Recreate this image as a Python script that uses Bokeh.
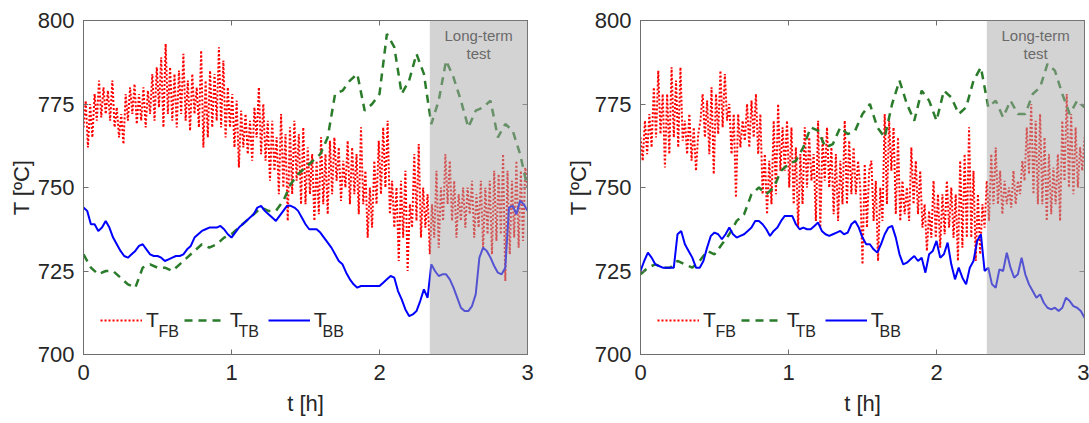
import numpy as np
from bokeh.plotting import figure
from bokeh.layouts import row
from bokeh.models import BoxAnnotation, Label, Legend, LegendItem, LinearAxis, Range1d
from bokeh.embed import file_html
from bokeh.resources import INLINE

# ---------------- data ----------------
FB_STEP = 0.015   # h, sampling of T_FB
TB_STEP = 0.05    # h, sampling of T_TB
BB_STEP = 0.025   # h, sampling of T_BB
LONG_TERM_START = 2.34
X_TICKS = [0, 1, 2, 3]
Y_TICKS = [700, 725, 750, 775, 800]

left_fb = [
    768, 776, 762, 775, 765, 778, 770, 782, 771, 780, 772, 779, 770, 782, 768, 774,
    765, 772, 763, 778, 770, 780, 772, 781, 769, 778, 770, 780, 768, 779, 772, 784,
    770, 786, 774, 789, 768, 793, 772, 786, 770, 784, 768, 785, 772, 790, 770, 782,
    767, 784, 772, 780, 768, 791, 762, 782, 765, 785, 768, 784, 770, 792, 768, 788,
    765, 780, 768, 778, 762, 776, 756, 773, 762, 772, 760, 770, 758, 774, 765, 780,
    760, 775, 758, 770, 752, 770, 755, 765, 748, 772, 750, 766, 740, 768, 748, 770,
    752, 766, 745, 768, 745, 762, 748, 760, 740, 758, 742, 765, 745, 760, 742, 764,
    748, 765, 752, 762, 746, 758, 750, 764, 745, 762, 748, 760, 742, 768, 745, 755,
    735, 750, 738, 758, 745, 764, 748, 768, 750, 770, 742, 752, 738, 750, 728, 752,
    735, 755, 725, 745, 738, 760, 740, 763, 735, 750, 738, 748, 730, 745, 735, 755,
    732, 750, 740, 760, 745, 758, 740, 752, 735, 748, 740, 750, 738, 750, 742, 752,
    735, 748, 738, 752, 732, 750, 736, 752, 730, 755, 734, 754, 736, 760, 722, 755,
    730, 752, 735, 758, 732, 755, 734, 756, 750]

left_tb = [
    730, 726, 724, 725, 725, 723, 721, 720, 726, 727, 726, 726, 725, 727, 729, 731,
    733, 732, 733, 735, 736, 738, 740, 742, 744, 743, 743, 746, 751, 754, 756, 758,
    760, 765, 778, 779, 782, 784, 773, 775, 778, 796, 792, 778, 782, 790, 784, 769,
    776, 788, 783, 776, 768, 773, 774, 776, 765, 769, 767, 760, 750]

left_bb = [
    744, 743, 739, 739, 737, 738, 740, 738, 735, 733,
    731, 729.5, 729, 730, 731, 732.5, 733, 731.5, 730, 729.5,
    729.5, 729, 728, 728.5, 729, 729.5, 729.5, 730, 731.5, 732.5,
    735, 736, 737, 737.5, 738, 738, 738, 738.5, 737.5, 736,
    735, 736.5, 738, 739, 740, 741, 742, 744, 744.5, 743,
    742, 741, 740, 741.5, 743, 744.5, 744.5, 744, 743, 741,
    739, 737.5, 737.5, 737.5, 736.5, 735, 733.5, 732, 730, 728,
    727, 724.5, 722.5, 721, 720, 720.5, 720.5, 720.5, 720.5, 720.5,
    720.5, 721.5, 722.5, 723.5, 723, 719, 716.5, 713.5, 711.5, 712,
    713, 716, 719.5, 717, 727, 725, 723.5, 724, 724, 722.5,
    720, 717, 714, 713, 713, 714.5, 718, 729, 732, 731,
    729, 726.5, 724.5, 724, 726, 744, 744.5, 742, 746, 745,
    743]

right_fb = [
    765, 758, 770, 760, 772, 762, 780, 765, 785, 766, 778, 756, 778, 760, 786, 765,
    782, 762, 786, 764, 770, 760, 772, 758, 768, 755, 766, 770, 778, 765, 776, 760,
    780, 754, 778, 766, 785, 768, 784, 770, 775, 760, 772, 747, 772, 762, 770, 764,
    775, 762, 776, 765, 778, 760, 772, 748, 760, 742, 758, 745, 770, 748, 775, 755,
    768, 755, 770, 750, 768, 745, 762, 738, 760, 745, 768, 750, 765, 752, 760, 740,
    770, 738, 765, 752, 768, 750, 762, 742, 760, 740, 758, 745, 770, 745, 764, 748,
    762, 748, 758, 750, 727, 757, 738, 755, 758, 740, 752, 728, 750, 740, 772, 745,
    770, 755, 768, 742, 765, 740, 752, 742, 750, 740, 762, 745, 758, 742, 755, 738,
    745, 731, 743, 735, 752, 735, 748, 732, 748, 736, 752, 738, 750, 735, 748, 728,
    758, 732, 760, 735, 768, 735, 755, 728, 748, 730, 745, 738, 752, 740, 760, 745,
    762, 745, 755, 742, 752, 745, 750, 744, 755, 745, 752, 748, 758, 752, 768, 754,
    775, 748, 770, 745, 772, 745, 765, 740, 760, 742, 756, 745, 760, 740, 770, 752,
    778, 750, 772, 748, 768, 750, 762, 755, 765]

right_tb = [
    724, 726, 727, 726, 726, 728, 727, 726, 728, 731, 730, 733, 736, 740, 742, 748,
    750, 748, 750, 755, 757, 758, 762, 768, 767, 762, 763, 768, 766, 767, 772, 775,
    768, 765, 775, 782, 775, 770, 779, 776, 770, 779, 777, 772, 774, 782, 786, 774,
    776, 771, 776, 772, 772, 778, 780, 787, 785, 778, 772, 776, 774]

right_bb = [
    725, 728, 730.5, 729, 727, 726.5, 726, 726, 726, 726,
    736, 737, 733, 731, 729, 726, 726, 728, 732, 735.5,
    736.5, 736, 734.5, 736, 738, 736, 735, 735.5, 736, 737,
    738, 740, 740, 739, 737.5, 735.5, 737, 738, 740, 741.5,
    741.5, 741.5, 739, 737.5, 738, 737.5, 737.5, 738.5, 739.5, 737,
    736, 735.5, 736, 736.5, 737, 736, 736.5, 739, 740, 738,
    735, 733, 733, 731.5, 730.5, 733, 736, 738, 738.5, 735,
    730, 727, 727.5, 728.5, 729.5, 728, 729, 724.5, 730, 731,
    734, 729, 730, 733.5, 727, 722.5, 726, 723, 721, 726,
    728, 734, 736, 725, 726, 721, 720, 725.5, 725, 730.5,
    726, 723, 724, 729, 724, 721, 719, 717, 718, 715.5,
    714, 713.5, 714, 713, 714, 717, 716, 714.5, 714, 713,
    711]

# ---------------- style ----------------
FONT = "Liberation Sans"
TXT = "#262626"
FRAME = "#6e6e6e"
RED = "#ff0000"
GREEN = "#2a7b2a"
BLUE = "#0000ff"


def times(n, step):
    return np.round(np.arange(n) * step, 4)


def style_axis(ax, ticks, show_labels):
    ax.ticker = ticks
    ax.major_tick_in = 5
    ax.major_tick_out = 0
    ax.minor_tick_line_color = None
    ax.axis_line_color = FRAME
    ax.major_tick_line_color = FRAME
    ax.major_label_text_font = FONT
    if show_labels:
        ax.major_label_text_font_size = "22px"
        ax.major_label_text_color = TXT
    else:
        ax.major_label_text_font_size = "1px"
        ax.major_label_text_color = None
        ax.major_label_standoff = 0


def panel(fb, tb, bb, border_left, border_right):
    w = border_left + 444 + border_right
    p = figure(width=w, height=420, x_range=Range1d(0, 3), y_range=Range1d(700, 800),
               output_backend="svg", toolbar_location=None,
               min_border_left=border_left, min_border_right=border_right,
               min_border_top=20, min_border_bottom=66)
    p.grid.visible = False
    p.outline_line_color = FRAME
    p.background_fill_color = "white"
    p.border_fill_color = "white"

    style_axis(p.xaxis[0], X_TICKS, True)
    style_axis(p.yaxis[0], Y_TICKS, True)
    p.xaxis.axis_label = "t [h]"
    p.yaxis.axis_label = "T [ºC]"
    for ax in (p.xaxis[0], p.yaxis[0]):
        ax.axis_label_text_font = FONT
        ax.axis_label_text_font_size = "22px"
        ax.axis_label_text_font_style = "normal"
        ax.axis_label_text_color = TXT
    p.xaxis.major_label_standoff = 10
    p.xaxis.axis_label_standoff = 8
    p.yaxis.major_label_standoff = 9
    p.yaxis.axis_label_standoff = 1

    top = LinearAxis()
    style_axis(top, X_TICKS, False)
    p.add_layout(top, "above")
    right = LinearAxis()
    style_axis(right, Y_TICKS, False)
    p.add_layout(right, "right")

    r_fb = p.line(times(len(fb), FB_STEP), fb, line_color=RED, line_width=2,
                  line_dash="2 2")
    r_tb = p.line(times(len(tb), TB_STEP), tb, line_color=GREEN, line_width=2.5,
                  line_dash="8 6")
    r_bb = p.line(times(len(bb), BB_STEP), bb, line_color=BLUE, line_width=2)

    p.add_layout(BoxAnnotation(left=LONG_TERM_START, fill_color="#a7a7a7",
                               fill_alpha=0.5, line_color=None))
    mid = (LONG_TERM_START + 3) / 2
    for txt, yv in (("Long-term", 795.5), ("test", 790.1)):
        p.add_layout(Label(x=mid, y=yv, text=txt, text_align="center",
                           text_baseline="middle", text_font=FONT,
                           text_font_size="15px", text_color="#6a6a6a"))

    legend = Legend(items=[LegendItem(label="T", renderers=[r]) for r in (r_fb, r_tb, r_bb)],
                    orientation="horizontal", location=(17, 22),
                    glyph_width=42, glyph_height=20, label_standoff=4,
                    label_width=12, label_height=20, spacing=25, padding=0,
                    margin=0, background_fill_alpha=0, border_line_color=None,
                    label_text_font=FONT, label_text_font_size="21px",
                    label_text_color=TXT)
    p.add_layout(legend)
    for sub, sx in (("FB", 75), ("TB", 155), ("BB", 239)):
        p.add_layout(Label(x=sx, y=23, x_units="screen", y_units="screen", text=sub,
                           text_align="left", text_baseline="alphabetic",
                           text_font=FONT, text_font_size="16px", text_color=TXT))
    return p


p1 = panel(left_fb, left_tb, left_bb, 83, 20)
p2 = panel(right_fb, right_tb, right_bb, 93, 5)
layout = row(p1, p2)

open("out.html", "w").write(file_html(layout, INLINE))
